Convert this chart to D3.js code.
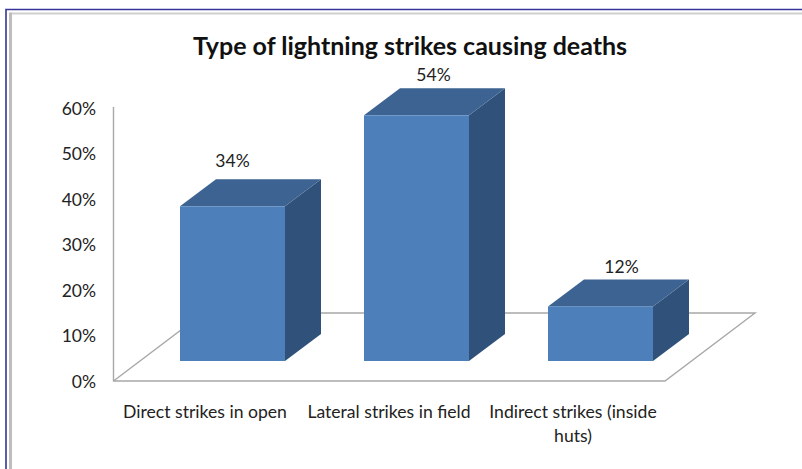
<!DOCTYPE html>
<html>
<head>
<meta charset="utf-8">
<script src="https://cdn.jsdelivr.net/npm/d3@7"></script>
<style>
  html, body { margin: 0; padding: 0; background: #fff; }
  svg { display: block; }
  text { font-family: Lato, "Open Sans", sans-serif; fill: #222; }
</style>
</head>
<body>
<svg id="chart" width="802" height="469"></svg>
<script>
const categories = ["Direct strikes in open", "Lateral strikes in field", "Indirect strikes (inside huts)"];
const values = [34, 54, 12];
const yTicks = [0, 10, 20, 30, 40, 50, 60];
const titleText = "Type of lightning strikes causing deaths";

const W = 802, H = 469;
const svg = d3.select("#chart");

// Sheet border: blue rule with a grey rule inside it
const frame = svg.append("g").attr("fill", "none");
frame.append("path").attr("d", `M${W},9.5H6V${H}`).attr("stroke", "#35359a").attr("stroke-width", 1.6);
frame.append("path").attr("d", `M${W},13.5H10.5`).attr("stroke", "#cfcfcf").attr("stroke-width", 2);
frame.append("path").attr("d", `M10.5,12.5V${H}`).attr("stroke", "#bdbdbd").attr("stroke-width", 3);

// Scales: the band runs along the floor's front edge
const x = d3.scaleBand().domain(categories).range([113, 665]);
const y = d3.scaleLinear().domain([0, 60]).range([380, 107]);

// Oblique projection offsets
const floorDepth = { dx: 90, dy: -68 };
const barDepth = { dx: 36, dy: -27 };
const barInset = 67;
const barLift = 19;
const barWidth = 105;

// Manually placed data labels, as offsets from each bar's front-top centre
const labelDx = [0, 17, 21];
const labelDy = [-39, -34, -33];

// Back wall axis and floor outline
const floorY = y(0) + 1;
const grey = "#a8a8a8";
svg.append("path")
  .attr("d", `M113.5,${y(60)}V${floorY}H${x.range()[1]}L${x.range()[1] + floorDepth.dx},${floorY + floorDepth.dy}H${113.5 + floorDepth.dx}L113.5,${floorY}`)
  .attr("fill", "none").attr("stroke", grey).attr("stroke-width", 1.4).attr("stroke-linejoin", "miter");

// Y tick labels
svg.append("g").selectAll("text").data(yTicks).join("text")
  .attr("x", 96).attr("y", d => y(d) + 1.5)
  .attr("dy", "0.35em")
  .attr("text-anchor", "end")
  .attr("font-size", 17.5)
  .text(d => d + "%");

// Bars: side, top, then front face
const bars = svg.append("g").selectAll("g").data(categories).join("g");
const geom = (c, i) => {
  const x0 = x(c) + barInset, x1 = x0 + barWidth;
  const base = y(0) - barLift, top = base - (y(0) - y(values[i]));
  return { x0, x1, base, top };
};
bars.append("path").attr("fill", "#30527a").attr("d", (c, i) => {
  const g = geom(c, i);
  return `M${g.x1},${g.base}V${g.top}l${barDepth.dx},${barDepth.dy}V${g.base + barDepth.dy}Z`;
});
bars.append("path").attr("fill", "#3c6391").attr("d", (c, i) => {
  const g = geom(c, i);
  return `M${g.x0},${g.top}l${barDepth.dx},${barDepth.dy}H${g.x1 + barDepth.dx}L${g.x1},${g.top}Z`;
});
bars.append("rect").attr("fill", "#4d7fbb")
  .attr("x", (c, i) => geom(c, i).x0)
  .attr("y", (c, i) => geom(c, i).top)
  .attr("width", barWidth)
  .attr("height", (c, i) => geom(c, i).base - geom(c, i).top);

// Value labels above each bar
bars.append("text")
  .attr("x", (c, i) => geom(c, i).x0 + barWidth / 2 + labelDx[i])
  .attr("y", (c, i) => geom(c, i).top + labelDy[i])
  .attr("text-anchor", "middle")
  .attr("font-size", 17.5)
  .text((c, i) => values[i] + "%");

// Category labels, wrapped to the band width
const tickLabels = svg.append("g").selectAll("text").data(categories).join("text")
  .attr("text-anchor", "middle")
  .attr("font-size", 17.6);
tickLabels.each(function (c) {
  const el = d3.select(this);
  const cx = x(c) + x.bandwidth() / 2;
  const lines = c.length > 25 ? [c.slice(0, c.lastIndexOf(" ")), c.slice(c.lastIndexOf(" ") + 1)] : [c];
  lines.forEach((ln, i) => el.append("tspan").attr("x", cx).attr("y", 417.5 + i * 24).text(ln));
});

// Title
svg.append("text")
  .attr("x", 410).attr("y", 55)
  .attr("text-anchor", "middle")
  .attr("font-size", 25)
  .attr("font-weight", 700)
  .style("fill", "#111")
  .text(titleText);
</script>
</body>
</html>
